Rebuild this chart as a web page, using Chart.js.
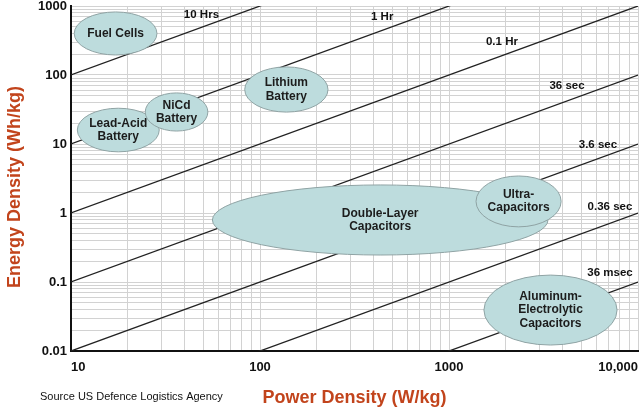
<!DOCTYPE html>
<html>
<head>
<meta charset="utf-8">
<script src="https://cdn.jsdelivr.net/npm/chart.js@4/dist/chart.umd.min.js"></script>
<style>
    body { margin: 0; background: #fff; }
    canvas { display: block; }
</style>
</head>
<body>
<canvas id="chartRagone" width="644" height="415"></canvas>
<script>
// technologies, drawn as ellipses (bounding box in W/kg and Wh/kg)
const tecnologias = [['Fuel Cells'], ['Double-Layer', 'Capacitors'], ['Lead-Acid', 'Battery'], ['NiCd', 'Battery'],
    ['Lithium', 'Battery'], ['Ultra-', 'Capacitors'], ['Aluminum-', 'Electrolytic', 'Capacitors']]
const potenciaMin = [10.4, 56, 10.8, 24.7, 83, 1390, 1530]
const potenciaMax = [28.5, 3340, 29.3, 53, 229, 3920, 7750]
const energiaMin = [195, 0.246, 7.7, 15.4, 29, 0.63, 0.0122]
const energiaMax = [820, 2.55, 33, 55, 131, 3.44, 0.126]

// discharge time lines, E = P * t (hours)
const tempos = [10, 1, 0.1, 0.01, 0.001, 0.0001, 0.00001]
const tempoLabels = ['10 Hrs', '1 Hr', '0.1 Hr', '36 sec', '3.6 sec', '0.36 sec', '36 msec']
const tempoLabelPotencia = [49, 443, 1906, 4210, 6140, 7110, 7110]
const tempoLabelEnergia = [741, 693, 301, 69, 9.7, 1.22, 0.135]

// axis ticks
const xTicks = [10, 100, 1000, 10000]
const xTickLabels = ['10', '100', '1000', '10,000']
const yTicks = [0.01, 0.1, 1, 10, 100, 1000]
const yTickLabels = ['0.01', '0.1', '1', '10', '100', '1000']

const fonte = "'Liberation Sans', Arial, sans-serif"
const corTitulo = '#c2441c'

function ticksLog(min, max) {
    let lista = []
    for (let dec = min; dec < max; dec *= 10) {
        for (let d = 1; d <= 9; d++) {
            lista.push({ value: +(dec * d).toPrecision(3) })
        }
    }
    lista.push({ value: max })
    return lista
}

const linhas = tempos.map(t => ({
    type: 'line',
    data: [{ x: 10, y: 10 * t }, { x: 10000, y: 10000 * t }],
    borderColor: '#222',
    borderWidth: 1.3,
    pointRadius: 0,
    showLine: true
}))

const pluginDesenho = {
    id: 'desenho',
    afterDatasetsDraw(chart) {
        const ctx = chart.ctx
        const x = chart.scales.x
        const y = chart.scales.y

        ctx.save()
        tecnologias.forEach((nome, i) => {
            let x1 = x.getPixelForValue(potenciaMin[i])
            let x2 = x.getPixelForValue(potenciaMax[i])
            let y1 = y.getPixelForValue(energiaMax[i])
            let y2 = y.getPixelForValue(energiaMin[i])
            let cx = (x1 + x2) / 2
            let cy = (y1 + y2) / 2

            ctx.beginPath()
            ctx.ellipse(cx, cy, (x2 - x1) / 2, (y2 - y1) / 2, 0, 0, Math.PI * 2)
            ctx.fillStyle = '#bddcdd'
            ctx.fill()
            ctx.strokeStyle = '#8fa3a4'
            ctx.lineWidth = 1
            ctx.stroke()

            ctx.fillStyle = '#1c1c1c'
            ctx.font = 'bold 12px ' + fonte
            ctx.textAlign = 'center'
            ctx.textBaseline = 'middle'
            let alturaLinha = 13.5
            nome.forEach((linha, j) => {
                ctx.fillText(linha, cx, cy + (j - (nome.length - 1) / 2) * alturaLinha)
            })
        })

        ctx.font = 'bold 11.5px ' + fonte
        ctx.fillStyle = '#111'
        tempoLabels.forEach((label, i) => {
            ctx.fillText(label, x.getPixelForValue(tempoLabelPotencia[i]), y.getPixelForValue(tempoLabelEnergia[i]))
        })

        // titles
        ctx.fillStyle = corTitulo
        ctx.font = 'bold 18px ' + fonte
        ctx.fillText('Power Density (W/kg)', (chart.chartArea.left + chart.chartArea.right) / 2, 398)
        ctx.save()
        ctx.translate(15, 187)
        ctx.rotate(-Math.PI / 2)
        ctx.fillText('Energy Density (Wh/kg)', 0, 0)
        ctx.restore()

        ctx.fillStyle = '#111'
        ctx.font = '11px ' + fonte
        ctx.textAlign = 'left'
        ctx.fillText('Source US Defence Logistics Agency', 40, 397)
        ctx.restore()
    }
}

const chartRagone = document.getElementById('chartRagone')

new Chart(chartRagone, {
    type: 'scatter',
    data: { datasets: linhas },
    plugins: [pluginDesenho],
    options: {
        responsive: false,
        animation: false,
        layout: { padding: { top: 6, right: 6, bottom: 2, left: 0 } },
        plugins: {
            legend: { display: false },
            tooltip: { enabled: false }
        },
        scales: {
            x: {
                type: 'logarithmic',
                min: 10,
                max: 10000,
                afterFit(scale) {
                    scale.height = 62
                    scale.paddingLeft = 0
                    scale.paddingRight = 0
                },
                afterBuildTicks(scale) { scale.ticks = ticksLog(10, 10000) },
                border: { color: '#111', width: 2 },
                grid: { color: '#d2d2d2', lineWidth: 1, drawTicks: false },
                ticks: {
                    autoSkip: false,
                    maxRotation: 0,
                    align: 'inner',
                    padding: 9,
                    color: '#111',
                    font: { family: fonte, size: 13, weight: 'bold' },
                    callback: (v) => {
                        let i = xTicks.indexOf(v)
                        return i >= 0 ? xTickLabels[i] : ''
                    }
                }
            },
            y: {
                type: 'logarithmic',
                min: 0.01,
                max: 1000,
                afterFit(scale) {
                    scale.width = 71
                    scale.paddingTop = 0
                    scale.paddingBottom = 0
                },
                afterBuildTicks(scale) { scale.ticks = ticksLog(0.01, 1000) },
                border: { color: '#111', width: 2 },
                grid: { color: '#d2d2d2', lineWidth: 1, drawTicks: false },
                ticks: {
                    autoSkip: false,
                    padding: 4,
                    color: '#111',
                    font: { family: fonte, size: 13, weight: 'bold' },
                    callback: (v) => {
                        let i = yTicks.findIndex(t => Math.abs(t - v) / t < 1e-6)
                        return i >= 0 ? yTickLabels[i] : ''
                    }
                }
            }
        }
    }
})
</script>
</body>
</html>
